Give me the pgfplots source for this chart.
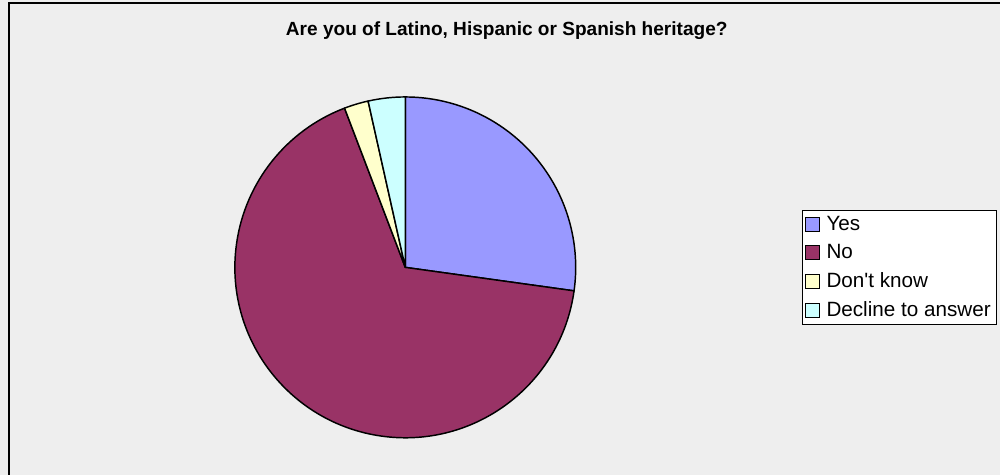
\documentclass[border=0pt]{standalone}
\usepackage{pgfplots}
\usepackage{pgfplotstable}
\pgfplotsset{compat=1.18}
\usepackage{fontspec}
\setmainfont{Liberation Sans}[Ligatures=TeXOff]
\definecolor{bg}{HTML}{EEEEEE}
\definecolor{yesc}{HTML}{9999FF}
\definecolor{noc}{HTML}{993366}
\definecolor{dkc}{HTML}{FFFFCC}
\definecolor{decc}{HTML}{CCFFFF}

% shares in percent, clockwise from 12 o'clock
\pgfplotstableread{
share col
27.2 yesc
67.0 noc
2.3 dkc
3.5 decc
}\pietable

\begin{document}
\begin{tikzpicture}
\begin{axis}[
  width=750.75pt, height=356.25pt, scale only axis,
  xmin=0, xmax=1001, ymin=0, ymax=475,
  hide axis, clip=false,
  legend style={at={(0.8012,0.5579)}, anchor=north west, draw=black, fill=white,
    font=\fontsize{15.5}{18}\selectfont, row sep=5pt, inner xsep=2.5pt, inner ysep=2.5pt},
  legend cell align=left,
  legend image code/.code={\draw[#1, draw=black, line width=0.6pt] (0pt,-5.25pt) rectangle (10.5pt,5.25pt);
    \path (13.5pt,0pt);},
]
\fill[bg] (axis cs:0,0) rectangle (axis cs:1001,475);
\draw[black, line width=0.8pt] (axis cs:9,0) -- (axis cs:9,472) -- (axis cs:1001,472);
\node[font=\bfseries\fontsize{14.3}{17}\selectfont] at (axis cs:507,444) {Are you of Latino, Hispanic or Spanish heritage?};
\pgfplotsextra{
  \def\pieangle{90}
  \pgfplotsforeachungrouped \i in {0,...,3}{
    \pgfplotstablegetelem{\i}{share}\of\pietable \let\share\pgfplotsretval
    \pgfplotstablegetelem{\i}{col}\of\pietable \let\col\pgfplotsretval
    \pgfmathsetmacro\aend{\pieangle-3.6*\share}
    \filldraw[fill=\col, draw=black, line width=1.1pt, line join=round]
      (axis cs:405.5,207.5) -- ++(\pieangle:127.875pt)
      arc[start angle=\pieangle, end angle=\aend, radius=127.875pt] -- cycle;
    \global\let\pieangle\aend
  }
}
\addlegendimage{fill=yesc}
\addlegendentry{Yes}
\addlegendimage{fill=noc}
\addlegendentry{No}
\addlegendimage{fill=dkc}
\addlegendentry{Don't know}
\addlegendimage{fill=decc}
\addlegendentry{Decline to answer}
\end{axis}
\end{tikzpicture}
\end{document}
